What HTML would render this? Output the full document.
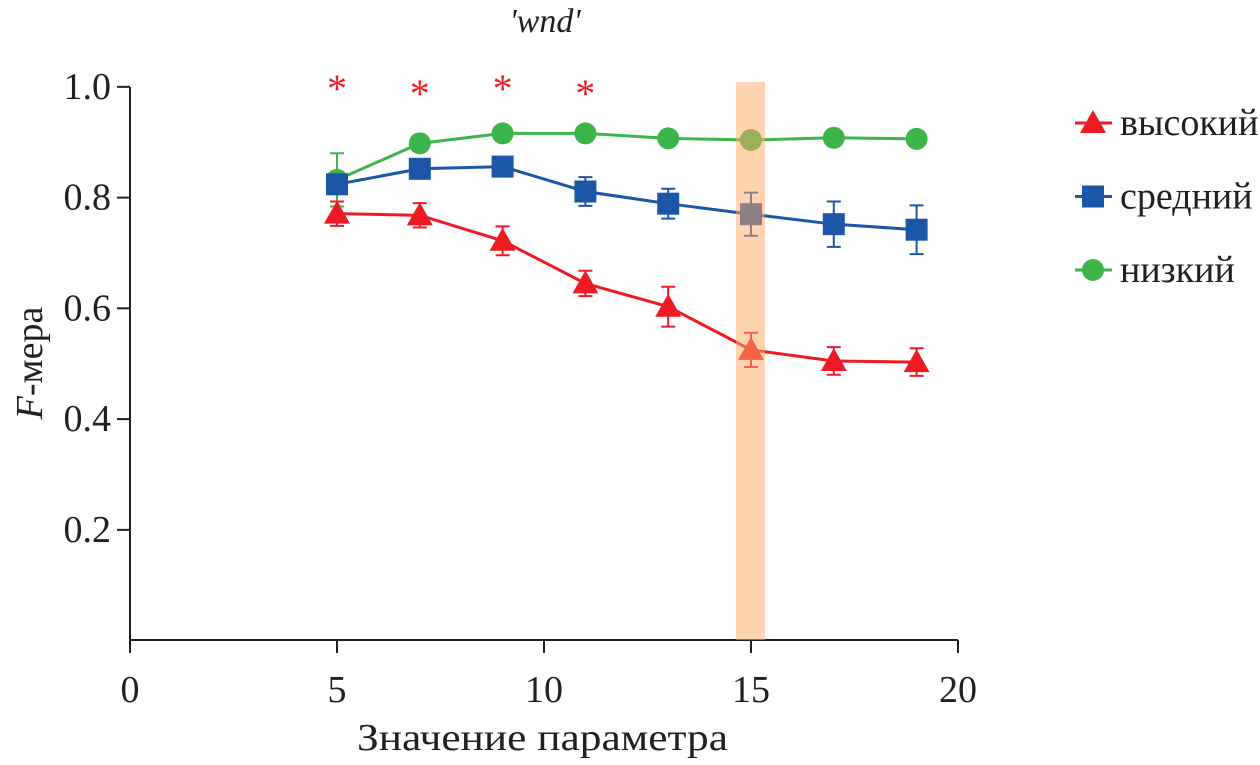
<!DOCTYPE html>
<html><head><meta charset="utf-8"><style>
body{margin:0;background:#fff;width:1260px;height:760px;overflow:hidden}
text{font-family:"Liberation Serif","Times New Roman","DejaVu Serif",serif;fill:#231f20}
</style></head><body>
<svg id="chart" width="1260" height="760" xmlns="http://www.w3.org/2000/svg" font-family="Liberation Serif, Times New Roman, serif">
<g id="axes"></g>
<g id="series"></g>
<g id="legend"></g>
</svg>
<script>
const xs=[5,7,9,11,13,15,17,19];
const highVals=[0.771,0.768,0.722,0.645,0.603,0.525,0.505,0.503];
const highErr=[0.022,0.022,0.026,0.023,0.036,0.031,0.025,0.025];
const midVals=[0.824,0.852,0.856,0.811,0.789,0.770,0.752,0.742];
const midErr=[0.008,0.006,0.006,0.026,0.027,0.039,0.041,0.044];
const lowVals=[0.832,0.898,0.916,0.916,0.907,0.904,0.908,0.906];
const lowErr=[0.048,0.005,0.004,0.004,0.004,0.004,0.004,0.004];
const starXs=[5,7,9,11];
const xTicks=[0,5,10,15,20];
const yTicks=[0.2,0.4,0.6,0.8,1.0];
const highlightX=15;
const NS="http://www.w3.org/2000/svg";
const FF='"Liberation Serif","Times New Roman",serif';
const X=v=>130+v*41.4, Y=v=>640.6-v*553.75;
function mk(t,a,p){const e=document.createElementNS(NS,t);for(const k in a)e.setAttribute(k,a[k]);if(t==='text')e.style.fontFamily=FF;p.appendChild(e);return e;}
const ax=document.getElementById('axes'),se=document.getElementById('series'),lg=document.getElementById('legend');
let e=mk('line',{x1:130,y1:640,x2:958,y2:640,stroke:'#231f20','stroke-width':2},ax);

e=mk('line',{x1:130,y1:640,x2:130,y2:87,stroke:'#231f20','stroke-width':2},ax);

xTicks.forEach(t=>{mk('line',{x1:X(t),y1:640,x2:X(t),y2:653,stroke:'#231f20','stroke-width':2},ax);
 e=mk('text',{x:X(t),y:702,'font-size':38,'text-anchor':'middle'},ax);e.textContent=t;
 });
yTicks.forEach(t=>{mk('line',{x1:117,y1:Y(t),x2:130,y2:Y(t),stroke:'#231f20','stroke-width':2},ax);
 e=mk('text',{x:111,y:Y(t)+12,'font-size':38,'text-anchor':'end'},ax);e.textContent=t.toFixed(1);
 });
e=mk('text',{x:357,y:750,'font-size':38,textLength:371,lengthAdjust:'spacingAndGlyphs'},ax);e.textContent='Значение параметра';

e=mk('text',{x:0,y:0,'font-size':38,'text-anchor':'middle',transform:'translate(42,363) rotate(-90)'},ax);
e.innerHTML='<tspan font-style="italic">F</tspan>-мера';

e=mk('text',{x:545,y:32,'font-size':34,'font-style':'italic','text-anchor':'middle'},ax);e.textContent="'wnd'";

starXs.forEach((s,i)=>{e=mk('text',{x:X(s),y:i%2?107:102,'font-size':40,'text-anchor':'middle'},ax);e.style.fill='#ed1c24';e.textContent='*';
 });
function marker(kind,x,y,c,p){
 if(kind==='tri')return mk('polygon',{points:`${x},${y-13} ${x-13},${y+10} ${x+13},${y+10}`,fill:c},p);
 if(kind==='sq')return mk('rect',{x:x-11,y:y-11,width:22,height:22,fill:c},p);
 return mk('circle',{cx:x,cy:y,r:11,fill:c},p);}
const S=[{n:'low',v:lowVals,er:lowErr,c:'#3db54a',k:'ci',l:'низкий'},{n:'mid',v:midVals,er:midErr,c:'#1c56a6',k:'sq',l:'средний'},{n:'high',v:highVals,er:highErr,c:'#ed1c24',k:'tri',l:'высокий'}];
S.forEach(s=>{const g=mk('g',{},se);
 e=mk('polyline',{points:xs.map((x,i)=>X(x)+','+Y(s.v[i])).join(' '),fill:'none',stroke:s.c,'stroke-width':3},g);
 
 xs.forEach((x,i)=>{const cx=X(x),t=Y(s.v[i]+s.er[i]),b=Y(s.v[i]-s.er[i]);
  e=mk('path',{d:`M${cx},${t}V${b}M${cx-7},${t}H${cx+7}M${cx-7},${b}H${cx+7}`,stroke:s.c,'stroke-width':2,fill:'none'},g);
  
  e=marker(s.k,cx,Y(s.v[i]),s.c,g);
  });});
e=mk('rect',{x:X(highlightX)-15,y:82,width:29,height:558,fill:'rgb(253,170,100)',opacity:0.5},se);

[S[2],S[1],S[0]].forEach((s,i)=>{const y=123+i*73.5;
 const g=mk('g',{},lg);
 mk('line',{x1:1075,y1:y,x2:1112,y2:y,stroke:s.c,'stroke-width':3},g);
 marker(s.k,1093,y,s.c,g);
 const t=mk('text',{x:1120,y:y+12,'font-size':38},g);t.textContent=s.l;});
</script>
</body></html>
